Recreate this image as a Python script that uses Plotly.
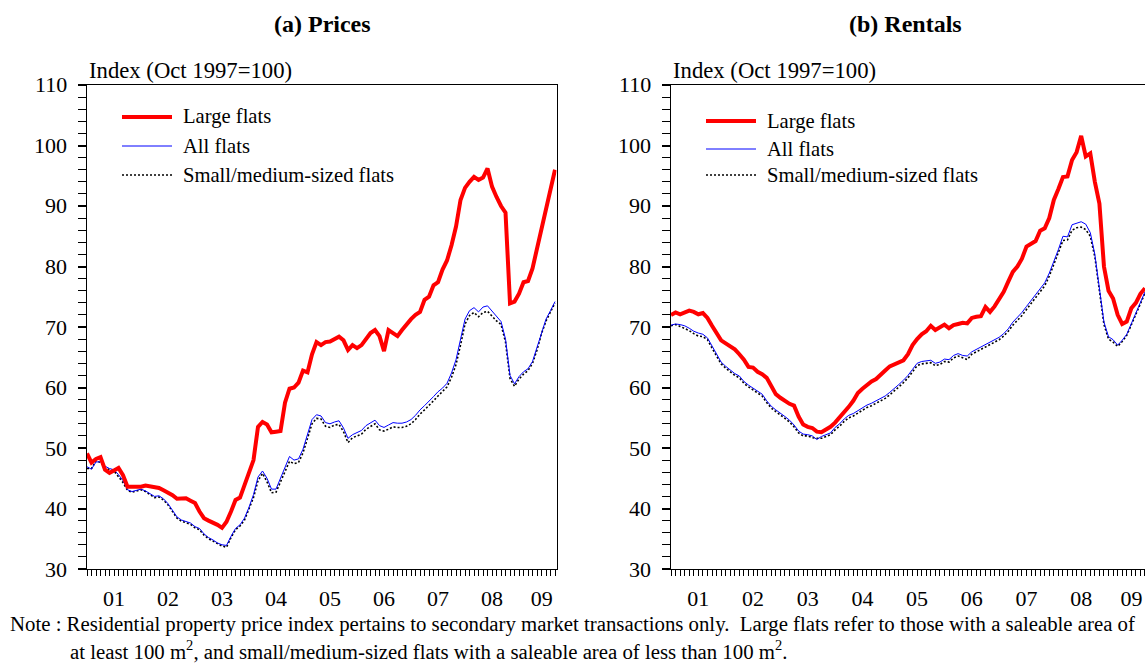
import plotly.graph_objects as go

W, H = 1145, 666
FONT = "Liberation Serif"

# ---------------- data (monthly, Jan 2001 .. Sep 2009) ----------------
start_year = 2001
year_labels = ["01", "02", "03", "04", "05", "06", "07", "08", "09"]
y_ticks = [30, 40, 50, 60, 70, 80, 90, 100, 110]

price_large = [
    49.1, 47.6, 48.2, 48.5, 46.4, 45.9, 46.3, 46.7, 45.5, 43.6, 43.6, 43.6,
    43.6, 43.8, 43.7, 43.5, 43.4, 43.0, 42.6, 42.2, 41.6, 41.6, 41.7, 41.3,
    40.9, 39.5, 38.4, 38.0, 37.7, 37.3, 36.8, 37.8, 39.5, 41.4, 41.8, 43.8,
    46.0, 48.0, 53.5, 54.3, 53.9, 52.6, 52.7, 52.8, 57.5, 59.8, 60.0, 60.8,
    62.8, 62.5, 65.5, 67.5, 67.0, 67.5, 67.6, 68.0, 68.4, 67.8, 66.2, 67.0,
    66.5, 67.0, 68.0, 69.0, 69.5, 68.5, 66.0, 69.5, 69.0, 68.5, 69.5, 70.5,
    71.3, 72.0, 72.5, 74.5, 75.0, 76.9, 77.4, 79.5, 81.0, 83.5, 86.6, 91.0,
    93.0, 94.0, 94.8, 94.3, 94.7, 96.2, 93.2, 91.5, 90.0, 88.9, 73.9, 74.2,
    75.5, 77.4, 77.6, 79.7, 83.0, 86.0, 89.5, 92.8, 96.0,
]
price_all = [
    46.9, 46.5, 47.7, 47.7, 47.0, 46.6, 46.4, 45.6, 44.6, 43.1, 42.8, 43.0,
    43.2, 42.9, 42.4, 42.0, 42.1, 41.6, 40.8, 39.6, 38.6, 38.1, 37.9, 37.6,
    37.0, 36.7, 35.8, 35.2, 34.8, 34.3, 34.0, 33.9, 35.4, 36.7, 37.3, 38.4,
    40.2, 42.3, 45.2, 46.2, 45.0, 43.2, 43.2, 45.0, 46.6, 48.6, 48.0, 48.2,
    49.8, 52.3, 54.7, 55.5, 55.3, 54.2, 54.0, 54.3, 54.5, 53.3, 51.6, 52.2,
    52.6, 52.9, 53.7, 54.2, 54.6, 53.7, 53.4, 53.8, 54.2, 54.1, 54.1, 54.3,
    54.7, 55.4, 56.3, 57.0, 57.7, 58.5, 59.3, 59.9, 60.7, 62.4, 64.6, 67.8,
    71.3, 72.7, 73.2, 72.5, 73.3, 73.5, 72.6, 71.7, 70.9, 68.0, 62.0, 60.6,
    61.8, 62.6, 63.1, 64.3, 66.6, 69.3, 71.3, 72.7, 74.2,
]
price_small = [
    46.6, 46.6, 47.9, 47.6, 46.8, 46.4, 46.2, 45.3, 44.3, 43.0, 42.7, 42.9,
    43.1, 42.8, 42.3, 41.8, 41.9, 41.4, 40.6, 39.4, 38.4, 37.9, 37.7, 37.4,
    36.8, 36.5, 35.6, 35.0, 34.6, 34.2, 33.8, 33.6, 35.2, 36.5, 37.1, 38.1,
    39.8, 41.8, 44.6, 45.8, 44.4, 42.6, 42.7, 44.4, 46.0, 47.8, 47.4, 47.6,
    49.2, 51.7, 54.0, 54.9, 54.8, 53.6, 53.4, 53.8, 53.9, 52.7, 50.9, 51.7,
    52.0, 52.3, 53.1, 53.6, 54.0, 53.0, 52.8, 53.1, 53.5, 53.4, 53.4, 53.6,
    54.0, 54.7, 55.6, 56.3, 57.0, 57.8, 58.6, 59.3, 60.1, 61.7, 63.8, 67.0,
    70.5, 71.9, 72.4, 71.7, 72.4, 72.6, 71.8, 71.0, 70.4, 67.5, 61.5, 60.2,
    61.4, 62.2, 62.8, 64.0, 66.2, 68.9, 71.0, 72.4, 74.0,
]

rent_large = [
    72.0, 72.4, 72.1, 72.4, 72.7, 72.5, 72.1, 72.3, 71.5, 70.2, 69.0, 67.8,
    67.3, 66.8, 66.3, 65.5, 64.6, 63.4, 63.3, 62.6, 62.2, 61.6, 60.1, 58.9,
    58.3, 57.7, 57.3, 57.0, 55.2, 53.9, 53.5, 53.3, 52.7, 52.6, 53.0, 53.5,
    54.2, 55.0, 55.9, 56.8, 57.8, 59.1, 59.8, 60.5, 61.0, 61.4, 62.0, 62.8,
    63.5, 63.8, 64.2, 64.5, 65.5, 67.0, 68.0, 68.8, 69.3, 70.2, 69.5, 70.0,
    70.4, 69.8, 70.3, 70.5, 70.7, 70.6, 71.5, 71.7, 71.8, 73.3, 72.5, 73.4,
    74.6, 75.8, 77.5, 79.1, 80.0, 81.3, 83.3, 83.8, 84.2, 85.9, 86.3, 88.0,
    91.0, 92.8, 94.8, 94.9, 97.6, 98.9, 101.6, 98.2, 98.7, 94.0, 90.4, 80.0,
    76.0, 74.7, 72.0, 70.5, 70.9, 73.1, 74.0, 75.5, 76.4,
]
rent_all = [
    70.3, 70.5, 70.4, 70.2, 69.8, 69.3, 69.0, 68.8, 68.2, 66.8, 65.5, 64.2,
    63.5, 62.9, 62.3, 61.9, 61.0, 60.4, 59.9, 59.5, 58.9, 57.8, 56.9, 56.3,
    55.8, 55.2, 54.6, 53.8, 52.8, 52.3, 52.2, 52.0, 51.4, 51.9, 52.2, 52.5,
    53.4, 54.0, 54.8, 55.4, 55.7, 56.2, 56.6, 57.1, 57.4, 57.8, 58.2, 58.6,
    59.2, 59.8, 60.5, 61.2, 62.0, 63.0, 64.0, 64.3, 64.4, 64.5, 64.0, 64.2,
    64.7, 64.6, 65.3, 65.6, 65.3, 65.2, 65.9, 66.3, 66.8, 67.2, 67.6, 68.0,
    68.3, 68.9, 69.7, 70.8, 71.6, 72.4, 73.4, 74.4, 75.2, 76.2, 77.3, 78.9,
    80.8, 82.8, 85.0, 84.9, 86.9, 87.2, 87.4, 87.0, 85.6, 82.0, 76.8, 70.8,
    68.4, 67.9, 67.0, 67.8, 68.8, 70.6, 72.3, 74.3, 75.8,
]
rent_small = [
    70.2, 70.4, 70.1, 69.8, 69.4, 68.9, 68.5, 68.4, 67.9, 66.5, 65.2, 63.9,
    63.2, 62.6, 62.0, 61.6, 60.7, 60.1, 59.6, 59.2, 58.6, 57.5, 56.6, 56.0,
    55.5, 54.9, 54.3, 53.5, 52.5, 52.0, 52.0, 51.7, 51.6, 51.6, 51.9, 52.2,
    53.0, 53.6, 54.4, 55.0, 55.3, 55.8, 56.2, 56.7, 57.0, 57.4, 57.8, 58.2,
    58.8, 59.4, 60.1, 60.8, 61.6, 62.6, 63.6, 63.9, 64.0, 64.1, 63.6, 63.8,
    64.3, 64.2, 64.9, 65.2, 64.9, 64.6, 65.5, 65.9, 66.4, 66.8, 67.2, 67.6,
    67.9, 68.5, 69.3, 70.3, 71.1, 71.9, 72.9, 73.9, 74.7, 75.7, 76.8, 78.4,
    80.3, 82.3, 84.3, 84.4, 86.0, 86.4, 86.5, 86.1, 85.0, 81.6, 76.4, 70.4,
    68.0, 67.5, 66.8, 67.6, 68.6, 70.4, 72.1, 74.1, 75.6,
]

legend_names = ["Large flats", "All flats", "Small/medium-sized flats"]

# ---------------- helpers ----------------
def fx(p):
    return p / W


def fy(p):
    return 1 - p / H


months = [start_year + i / 12 for i in range(len(price_large))]
month_ticks = [start_year + k / 12 for k in range(0, 9 * 12)]
year_starts = [start_year + k for k in range(1, 9)]
label_pos = [start_year + k + 0.5 for k in range(8)] + [2009.42]

RED, BLUE = "#FF0000", "#0000FF"
styles = [
    dict(color=RED, width=4),
    dict(color=BLUE, width=1),
    dict(color="black", width=1.6, dash="2px,2px"),
]

fig = go.Figure()
for xa, ya, series in [("x", "y", [price_large, price_all, price_small]),
                       ("x2", "y2", [rent_large, rent_all, rent_small])]:
    for k in [2, 1, 0]:
        fig.add_trace(go.Scatter(
            x=months, y=series[k], mode="lines", line=styles[k],
            name=legend_names[k], xaxis=xa, yaxis=ya, showlegend=False,
            hoverinfo="skip"))

ydom = [fy(569), fy(85)]
left_dom = [fx(87), fx(556.5)]
right_dom = [fx(671), 1.0]
left_rng = [2001, 2009.694]
right_rng = [2001, 2009.667]

tickfont = dict(family=FONT, size=22, color="black")


def xaxis_cfg(dom, rng, anchor):
    return dict(
        domain=dom, range=rng, anchor=anchor, automargin=False,
        tickmode="array", tickvals=label_pos, ticktext=year_labels,
        ticks="", showline=True, linecolor="black", linewidth=1, mirror=True,
        showgrid=False, zeroline=False, tickfont=tickfont,
        ticklabelstandoff=10,
        minor=dict(tickmode="array", tickvals=month_ticks, ticks="outside",
                   ticklen=6, tickcolor="black", tickwidth=1, showgrid=False),
    )


def xover_cfg(over, rng, anchor):
    return dict(
        overlaying=over, range=rng, anchor=anchor, side="bottom", automargin=False,
        tickmode="array", tickvals=year_starts, ticks="inside", ticklen=7,
        tickcolor="black", tickwidth=1, showticklabels=False,
        showline=False, showgrid=False, zeroline=False,
    )


def yaxis_cfg(anchor, mirror):
    return dict(
        domain=ydom, range=[30, 110], anchor=anchor, automargin=False,
        tickmode="array", tickvals=y_ticks, showticklabels=False,
        ticks="outside", ticklen=8, tickwidth=1.5, tickcolor="black",
        showline=True, linecolor="black", linewidth=1, mirror=mirror,
        showgrid=False, zeroline=False,
        minor=dict(dtick=2, tick0=30, ticks="outside", ticklen=8,
                   tickcolor="black", tickwidth=1, showgrid=False),
    )


fig.update_layout(
    width=W, height=H,
    margin=dict(l=0, r=0, t=0, b=0, autoexpand=False),
    paper_bgcolor="white", plot_bgcolor="white",
    font=dict(family=FONT, color="black"),
    showlegend=False,
    xaxis=xaxis_cfg(left_dom, left_rng, "y"),
    xaxis2=xaxis_cfg(right_dom, right_rng, "y2"),
    xaxis3=xover_cfg("x", left_rng, "y"),
    xaxis4=xover_cfg("x2", right_rng, "y2"),
    yaxis=yaxis_cfg("x", True),
    yaxis2=yaxis_cfg("x2", False),
)

annotations = []
shapes = []

# y tick labels, placed at their axis values (18 px left of each axis line)
for yref, label_right in [("y", 69), ("y2", 653)]:
    for v in y_ticks:
        annotations.append(dict(text=str(v), x=fx(label_right), y=v, xref="paper",
                                yref=yref, showarrow=False, xanchor="right",
                                yanchor="middle", font=tickfont))

for txt, cx in [("<b>(a) Prices</b>", 322), ("<b>(b) Rentals</b>", 905)]:
    annotations.append(dict(text=txt, x=fx(cx), y=fy(24), xref="paper", yref="paper",
                            showarrow=False, xanchor="center", yanchor="middle",
                            font=dict(family=FONT, size=24)))
for lx in [87, 671]:
    annotations.append(dict(text="Index (Oct 1997=100)", x=fx(lx), y=fy(71),
                            xref="paper", yref="paper", showarrow=False,
                            xanchor="left", yanchor="middle",
                            font=dict(family=FONT, size=22.7)))

for x0, ys in [(122, [117, 146, 175]), (706, [121, 149, 175])]:
    for k in range(3):
        st = styles[k]
        shapes.append(dict(type="line", xref="paper", yref="paper",
                           x0=fx(x0), x1=fx(x0 + 50), y0=fy(ys[k]), y1=fy(ys[k]),
                           line=dict(color=st["color"], width=st["width"],
                                     dash=st.get("dash", "solid"))))
        annotations.append(dict(text=legend_names[k], x=fx(x0 + 59), y=fy(ys[k]),
                                xref="paper", yref="paper", showarrow=False,
                                xanchor="left", yanchor="middle",
                                font=dict(family=FONT, size=20.6)))

note1 = ("Note : Residential property price index pertains to secondary market transactions only.  "
         "Large flats refer to those with a saleable area of")
note2 = ("at least 100 m<sup>2</sup>, and small/medium-sized flats with a saleable area "
         "of less than 100 m<sup>2</sup>.")
annotations.append(dict(text=note1, x=fx(8), y=fy(624), xref="paper", yref="paper",
                        showarrow=False, xanchor="left", yanchor="middle",
                        font=dict(family=FONT, size=20.8)))
annotations.append(dict(text=note2, x=fx(68), y=fy(650), xref="paper", yref="paper",
                        showarrow=False, xanchor="left", yanchor="middle",
                        font=dict(family=FONT, size=20.8)))

fig.update_layout(annotations=annotations, shapes=shapes)
fig.write_html("out.html",
               config={"displayModeBar": False},
               post_script="document.body.style.margin='0px';document.body.style.padding='0px';")
